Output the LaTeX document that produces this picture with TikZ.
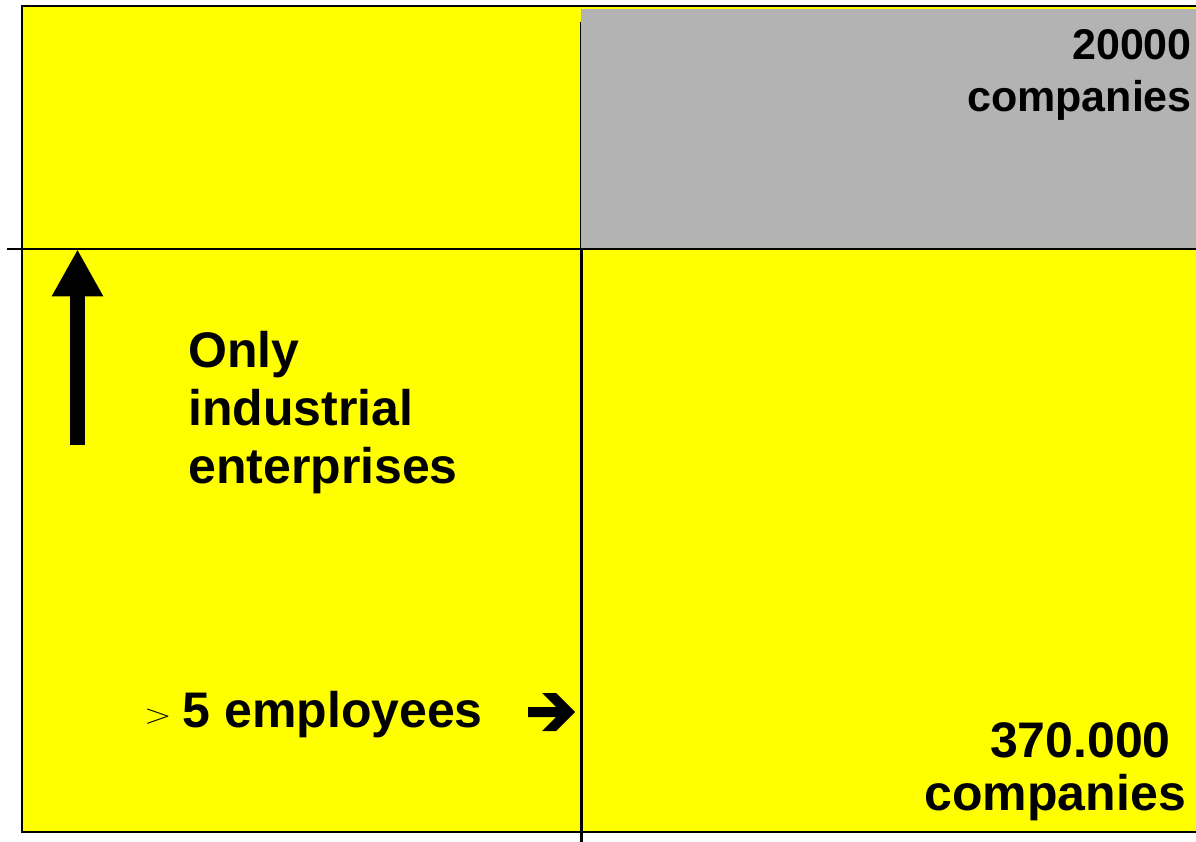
\documentclass[tikz,border=0pt]{standalone}
\usepackage{fontspec}
\setmainfont{Liberation Sans}
\usepackage{graphicx}
\usepackage{tikz}
\usetikzlibrary{arrows.meta}
\definecolor{fieldyellow}{RGB}{255,255,0}
\definecolor{fieldgray}{RGB}{179,179,179}

\begin{document}
\begin{tikzpicture}[x=1pt,y=-1pt,
	bigtext/.style={font=\bfseries\fontsize{50}{58}\selectfont,inner sep=0pt},
	toptext/.style={font=\bfseries\fontsize{43}{52}\selectfont,inner sep=0pt},
	gridline/.style={black,line width=#1}]
	\useasboundingbox (0,0) rectangle (1196,842);
	% fields
	\fill[fieldyellow] (22,7) rectangle (1196,831);
	\fill[fieldgray] (581,9) rectangle (1196,248.5);
	% frame and cross
	\draw[gridline=2] (1196,6) -- (21.7,6) -- (21.7,831.7) -- (1196,831.7);
	\draw[gridline=2] (6.7,248.7) -- (1196,248.7);
	\draw[gridline=1.5] (580.5,21.7) -- (580.5,248.7);
	\draw[gridline=3] (581.5,248.7) -- (581.5,842);
	% arrow upwards
	\coordinate (foot) at (77.5,445);
	\coordinate (tip) at (77.5,249.3);
	\draw[line width=15,-{Triangle[width=48pt,length=47pt]}] (foot) -- (tip);
	% texts (base = baseline of the last line)
	\node[bigtext,anchor=base west,align=left] (only) at (188,483)
		{Only\\industrial\\enterprises};
	\node[bigtext,anchor=base west] (employees) at (144,727)
		{\raisebox{4pt}{\scalebox{1.45}[1.1]{\mdseries$>$}}\hspace{11pt}5 employees};
	% heavy arrow to the right
	\fill (528,707) -- (556,707) -- (542,693) -- (556,693) -- (575,712)
		-- (556,731) -- (542,731) -- (556,717) -- (528,717) -- cycle;
	\node[toptext,anchor=base east,align=right] (small) at (1192,112)
		{20000\\companies};
	\node[bigtext,anchor=base east,align=right,font=\bfseries\fontsize{50}{53}\selectfont] (large) at (1186,810)
		{370.000\hspace*{15pt}\\companies};
\end{tikzpicture}
\end{document}
